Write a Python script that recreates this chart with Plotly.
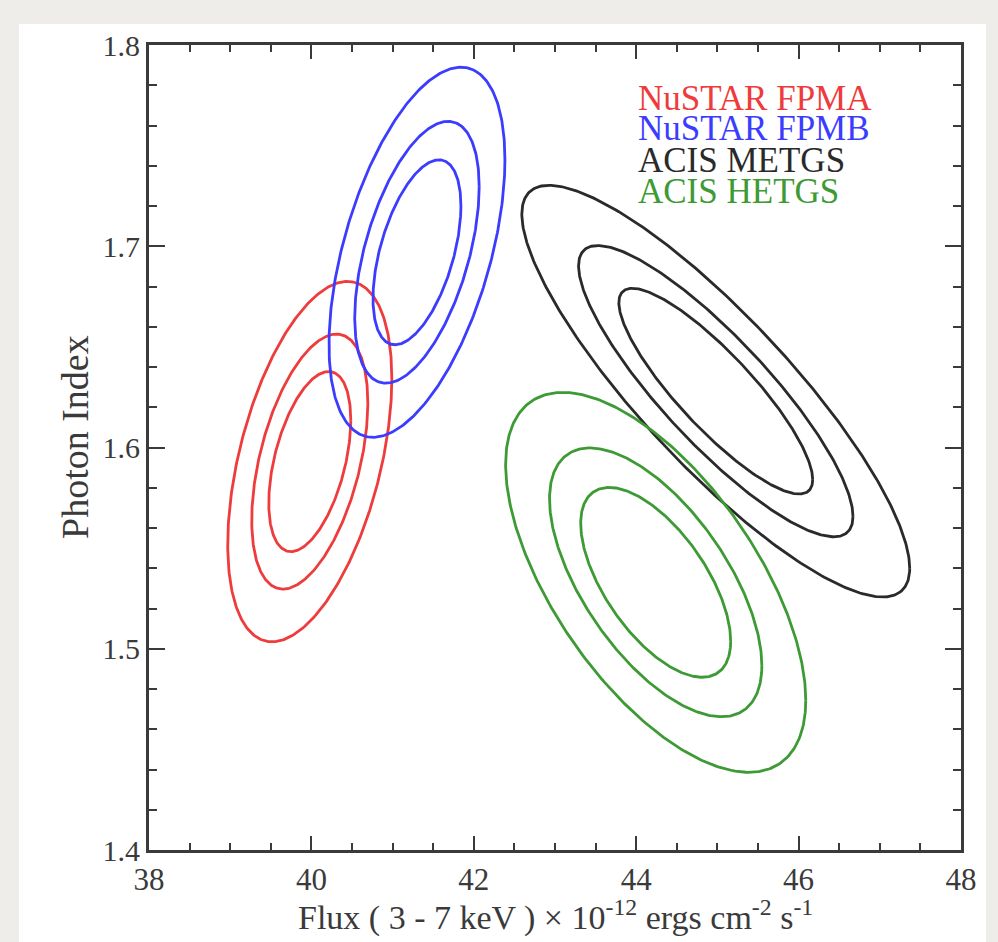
import numpy as np
import plotly.graph_objects as go

# ---- data ----
sources = ["NuSTAR FPMA", "NuSTAR FPMB", "ACIS METGS", "ACIS HETGS"]
colors = ["#ee3b3b", "#3c3cff", "#2a2a2a", "#3d9a34"]
center_flux = [39.98, 41.30, 44.98, 44.24]          # 1e-12 erg/cm2/s
center_index = [1.593, 1.697, 1.628, 1.533]
sigma_flux = [0.333, 0.357, 0.787, 0.609]
sigma_index = [0.0295, 0.0303, 0.0337, 0.0311]
correlation = [0.46, 0.50, -0.86, -0.62]
delta_chi2_levels = [2.30, 4.61, 9.21]             # 68%, 90%, 99% for 2 params

x_ticks = [38, 40, 42, 44, 46, 48]
y_ticks = [1.4, 1.5, 1.6, 1.7, 1.8]
x_ticklabels = ["38", "40", "42", "44", "46", "48"]
y_ticklabels = ["1.4", "1.5", "1.6", "1.7", "1.8"]
x_title = "Flux ( 3 - 7 keV ) × 10<sup>-12</sup> ergs cm<sup>-2</sup> s<sup>-1</sup>"
y_title = "Photon Index"

FONT = "Liberation Serif"
AXC = "#3a3a3a"

fig = go.Figure()
t = np.linspace(0, 2 * np.pi, 361)
for name, col, cx, cy, sx, sy, rho in zip(sources, colors, center_flux, center_index,
                                           sigma_flux, sigma_index, correlation):
    for lev in delta_chi2_levels:
        k = np.sqrt(lev)
        xs = cx + k * sx * np.cos(t)
        ys = cy + k * sy * (rho * np.cos(t) + np.sqrt(1 - rho ** 2) * np.sin(t))
        fig.add_trace(go.Scatter(x=xs, y=ys, mode="lines", name=name,
                                 line=dict(color=col, width=2.8),
                                 showlegend=False, hoverinfo="skip"))

L, R, T, B = 149, 998 - 961, 45, 942 - 850
pw, ph = 998 - L - R, 942 - T - B

# legend as coloured text
leg_y = [0.934, 0.8957, 0.857, 0.8186]
for name, col, yy in zip(sources, colors, leg_y):
    fig.add_annotation(x=0.6, y=yy, xref="paper", yref="paper", text=name,
                       showarrow=False, xanchor="left", yanchor="middle",
                       font=dict(family=FONT, size=35, color=col))

# axis titles
fig.add_annotation(x=(555 - L) / pw, y=(850 - 915) / ph, xref="paper", yref="paper",
                   text=x_title, showarrow=False, xanchor="center", yanchor="middle",
                   font=dict(family=FONT, size=34, color=AXC))
fig.add_annotation(x=(75 - L) / pw, y=(850 - 437) / ph, xref="paper", yref="paper",
                   text=y_title, showarrow=False, xanchor="center", yanchor="middle",
                   textangle=-90, font=dict(family=FONT, size=38, color=AXC))

# white panel on the grey paper
fig.add_shape(type="rect", xref="paper", yref="paper", layer="below",
              x0=(19 - L) / pw, x1=(986 - L) / pw,
              y0=-(942 - 850) / ph - 0.01, y1=(850 - 24) / ph,
              fillcolor="white", line=dict(width=0))

fig.update_layout(
    width=998, height=942,
    margin=dict(l=L, r=R, t=T, b=B, autoexpand=False),
    paper_bgcolor="#eeede9", plot_bgcolor="white",
    font=dict(family=FONT, color=AXC),
    showlegend=False,
)
fig.update_xaxes(
    range=[38, 48], tickvals=x_ticks, ticktext=x_ticklabels,
    ticks="inside", ticklen=14, tickwidth=2, tickcolor=AXC,
    minor=dict(dtick=0.5, ticks="inside", ticklen=7, tickwidth=2, tickcolor=AXC),
    showline=True, linewidth=3, linecolor=AXC, mirror="allticks",
    showgrid=False, zeroline=False,
    tickfont=dict(family=FONT, size=31, color=AXC),
)
fig.update_yaxes(
    range=[1.4, 1.8], tickvals=y_ticks, ticktext=y_ticklabels,
    ticks="inside", ticklen=16, tickwidth=2, tickcolor=AXC,
    minor=dict(dtick=0.02, ticks="inside", ticklen=8, tickwidth=2, tickcolor=AXC),
    showline=True, linewidth=3, linecolor=AXC, mirror="allticks",
    showgrid=False, zeroline=False,
    tickfont=dict(family=FONT, size=30, color=AXC),
)

fig.write_html("out.html", config={"displayModeBar": False},
               post_script="document.body.style.margin='0';document.body.style.background='#eeede9';")
